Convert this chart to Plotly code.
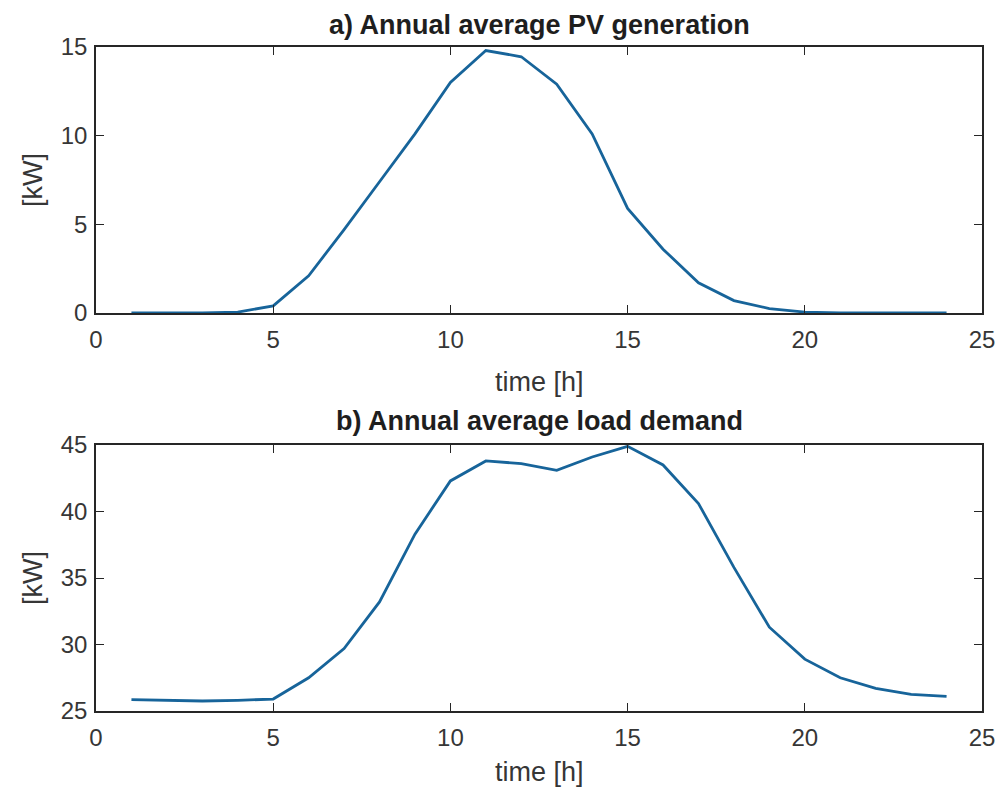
import plotly.graph_objects as go

hours = list(range(1, 25))
pv_kw = [0.0, 0.0, 0.0, 0.05, 0.4, 2.1, 4.7, 7.4, 10.1, 13.0, 14.8, 14.45,
         12.9, 10.1, 5.9, 3.6, 1.7, 0.7, 0.25, 0.05, 0.0, 0.0, 0.0, 0.0]
load_kw = [25.85, 25.8, 25.75, 25.8, 25.9, 27.5, 29.7, 33.2, 38.3, 42.3, 43.8, 43.6,
           43.1, 44.1, 44.9, 43.5, 40.6, 35.8, 31.3, 28.9, 27.5, 26.7, 26.25, 26.1]
titles = ["a) Annual average PV generation", "b) Annual average load demand"]
x_label = "time [h]"
y_label = "[kW]"
x_ticks = [0, 5, 10, 15, 20, 25]
pv_ticks = [0, 5, 10, 15]
load_ticks = [25, 30, 35, 40, 45]

LINE = "#17649a"
AX = "#262626"
TXT = "#363636"
FONT = "Liberation Sans, Arial, sans-serif"

fig = go.Figure()
fig.add_trace(go.Scatter(x=hours, y=pv_kw, mode="lines", line=dict(color=LINE, width=2.8),
                         xaxis="x", yaxis="y", showlegend=False))
fig.add_trace(go.Scatter(x=hours, y=load_kw, mode="lines", line=dict(color=LINE, width=2.8),
                         xaxis="x2", yaxis="y2", showlegend=False))

W, H = 999, 793
xd = [96 / W, 982 / W]
top_dom = [1 - 313 / H, 1 - 47 / H]
bot_dom = [1 - 711 / H, 1 - 445 / H]

def axis_common():
    return dict(ticks="inside", ticklen=8, tickwidth=1.3, tickcolor=AX,
                showline=True, linecolor=AX, linewidth=1.6, mirror="allticks",
                showgrid=False, zeroline=False, automargin=False,
                tickfont=dict(size=24, color=TXT, family=FONT))

def xaxis(anchor):
    d = axis_common()
    d.update(domain=xd, anchor=anchor, range=[0, 25], tickvals=x_ticks, ticklabelstandoff=4)
    return d

def yaxis(anchor, dom, rng, tv):
    d = axis_common()
    d.update(domain=dom, anchor=anchor, range=rng, tickvals=tv, ticklabelstandoff=2)
    return d

xc = (xd[0] + xd[1]) / 2
ann = []
for t, ty, ly, yc in [(titles[0], 25, 382, (top_dom[0] + top_dom[1]) / 2),
                      (titles[1], 421, 772, (bot_dom[0] + bot_dom[1]) / 2)]:
    ann.append(dict(text="<b>" + t + "</b>", x=xc, y=1 - ty / H, xref="paper", yref="paper",
                    showarrow=False, yanchor="middle",
                    font=dict(size=27, color="#1e1e1e", family=FONT)))
    ann.append(dict(text=x_label, x=xc, y=1 - ly / H, xref="paper", yref="paper",
                    showarrow=False, yanchor="middle",
                    font=dict(size=27, color=TXT, family=FONT)))
    ann.append(dict(text=y_label, x=33 / W, y=yc, xref="paper", yref="paper",
                    showarrow=False, textangle=-90, xanchor="center", yanchor="middle",
                    font=dict(size=27, color=TXT, family=FONT)))

fig.update_layout(
    width=W, height=H, margin=dict(l=0, r=0, t=0, b=0),
    paper_bgcolor="white", plot_bgcolor="white",
    xaxis=xaxis("y"), yaxis=yaxis("x", top_dom, [0, 15], pv_ticks),
    xaxis2=xaxis("y2"), yaxis2=yaxis("x2", bot_dom, [25, 45], load_ticks),
    annotations=ann,
)

fig.write_html("out.html")
